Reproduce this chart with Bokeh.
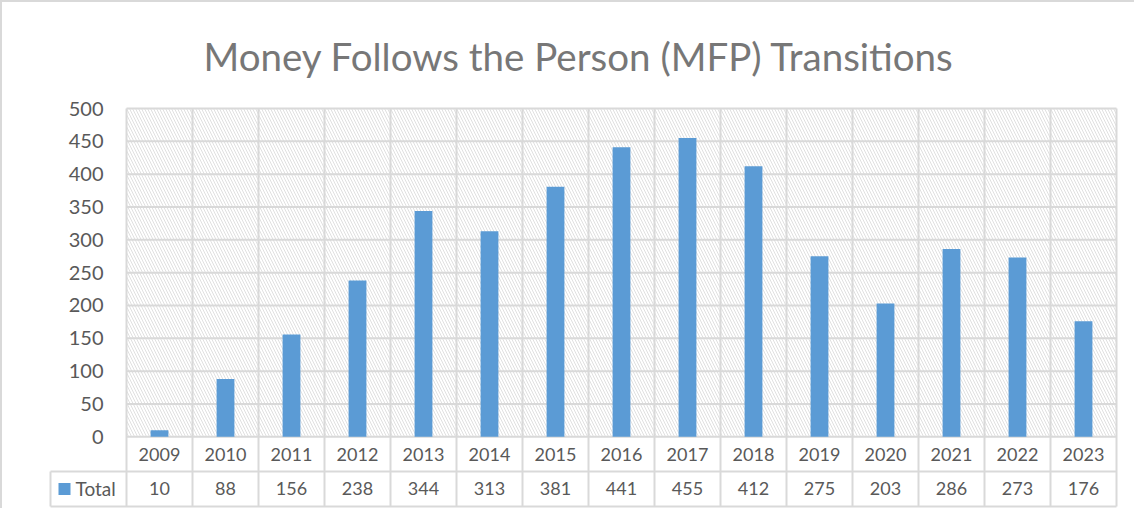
from bokeh.plotting import figure
from bokeh.models import Range1d, FixedTicker, Title
from bokeh.layouts import column
from bokeh.embed import file_html
from bokeh.resources import INLINE
from bokeh.core.properties import value

# ---- data ----
years = ["2009", "2010", "2011", "2012", "2013", "2014", "2015", "2016",
         "2017", "2018", "2019", "2020", "2021", "2022", "2023"]
totals = [10, 88, 156, 238, 344, 313, 381, 441, 455, 412, 275, 203, 286, 273, 176]
series_name = "Total"
y_ticks = [0, 50, 100, 150, 200, 250, 300, 350, 400, 450, 500]
title_text = "Money Follows the Person (MFP) Transitions"

# ---- style ----
FONT = "Lato"
TXT = "#595959"
GRID = "#d9d9d9"
BAR = "#5b9bd5"
PX = 66.0            # pixels per category
YMAX = max(y_ticks)
YPX = 327.5 / YMAX   # pixels per value unit

n = len(years)
xs = list(range(n))
labels_tot = [str(v) for v in totals]

R1 = -34.5 / YPX     # bottom of category row
R2 = -69.5 / YPX     # bottom of value row
x_leg = -0.5 - 76 / PX
x_lo = -0.5 - 78 / PX

p = figure(width=1132, height=506,
           x_range=Range1d(x_lo, n - 0.5 + 2 / PX),
           y_range=Range1d(-71.5 / YPX, YMAX + 2 / YPX),
           output_backend="svg", toolbar_location=None,
           x_axis_location=None,
           min_border_left=46, min_border_right=16,
           min_border_top=104, min_border_bottom=0)
p.outline_line_color = None
p.grid.visible = False

ax = p.yaxis[0]
ax.ticker = FixedTicker(ticks=y_ticks)
ax.axis_line_color = None
ax.major_tick_line_color = None
ax.minor_tick_line_color = None
ax.major_tick_out = 0
ax.major_tick_in = 0
ax.major_label_standoff = -55
ax.major_label_text_font = FONT
ax.major_label_text_font_size = "20px"
ax.major_label_text_color = TXT

t = Title(text=title_text, align="left", offset=155, standoff=56,
          text_font=FONT, text_font_size="38.5px", text_font_style="normal",
          text_color="#777777")
p.add_layout(t, "above")

# hatched plot-area background
p.quad(left=-0.5, right=n - 0.5, bottom=0, top=YMAX,
       fill_color=None, line_color=None,
       hatch_pattern="\\", hatch_color="#e0e0e0", hatch_scale=6, hatch_weight=1)

# gridlines (horizontal in plot area, vertical through plot and table)
bounds = [i - 0.5 for i in range(n + 1)]
p.segment(x0=[-0.5] * len(y_ticks), x1=[n - 0.5] * len(y_ticks), y0=y_ticks, y1=y_ticks,
          line_color=GRID, line_width=2)
p.segment(x0=bounds, x1=bounds, y0=[R2] * len(bounds), y1=[YMAX] * len(bounds),
          line_color=GRID, line_width=2)

# bars
p.vbar(x=xs, top=totals, width=0.27, fill_color=BAR, line_color=None)

# data table lines
p.segment(x0=[x_leg, x_leg], x1=[n - 0.5, n - 0.5], y0=[R1, R2], y1=[R1, R2],
          line_color=GRID, line_width=2)
p.segment(x0=[x_leg], x1=[x_leg], y0=[R1], y1=[R2], line_color=GRID, line_width=2)

# table texts
p.text(x=xs, y=[R1 / 2] * n, text=years, text_font=value(FONT), text_font_size="18px",
       text_color=TXT, text_align="center", text_baseline="middle")
p.text(x=xs, y=[(R1 + R2) / 2] * n, text=labels_tot, text_font=value(FONT),
       text_font_size="18px", text_color=TXT, text_align="center", text_baseline="middle")
p.scatter(x=[-0.5 - 62 / PX], y=[(R1 + R2) / 2], marker="square", size=12,
          fill_color=BAR, line_color=None)
p.text(x=[-0.5 - 51 / PX], y=[(R1 + R2) / 2], text=[series_name], text_font=value(FONT),
       text_font_size="19px", text_color=TXT, text_align="left", text_baseline="middle")

layout = column(p, styles={"border-left": "2px solid #d9d9d9", "border-top": "2px solid #d9d9d9"})

open("out.html", "w").write(file_html(layout, INLINE))
